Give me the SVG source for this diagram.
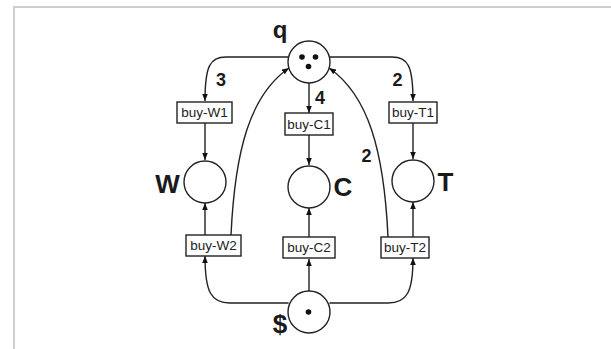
<svg xmlns="http://www.w3.org/2000/svg" width="611" height="349" viewBox="0 0 611 349">
<style>
.frame{fill:none;stroke:#c0c0c0;stroke-width:1.5}
.place{fill:#fff;stroke:#222;stroke-width:1.4}
.tok{fill:#111}
.trans{fill:#fff;stroke:#222;stroke-width:1.4}
.tt{font-family:"Liberation Sans",Arial,sans-serif;font-size:13.5px;fill:#222;text-anchor:middle}
.big{font-family:"Liberation Sans",Arial,sans-serif;font-weight:bold;font-size:26px;fill:#1a1a1a;text-anchor:middle}
.num{font-family:"Liberation Sans",Arial,sans-serif;font-weight:bold;font-size:18px;fill:#1a1a1a;text-anchor:middle}
.edge{fill:none;stroke:#222;stroke-width:1.4;marker-end:url(#ah)}
</style>
<defs>
<marker id="ah" viewBox="0 0 10 10" refX="10" refY="5" markerWidth="7" markerHeight="7" markerUnits="userSpaceOnUse" orient="auto">
<path d="M0,1 L10,5 L0,9 Z" fill="#111"/>
</marker>
</defs>
<rect width="611" height="349" fill="#fff"/>
<path class="frame" d="M14,349 V7 H611"/>
<g id="connectors">
<path class="edge" d="M288.6,57 H226 C210,57 205,66 205,101"/>
<path class="edge" d="M329.4,57 H392 C408,57 413,66 413,101"/>
<path class="edge" d="M309,83 V113"/>
<path class="edge" d="M205,123 V160"/>
<path class="edge" d="M309,135 V165"/>
<path class="edge" d="M413,123 V159"/>
<path class="edge" d="M205,235 V203"/>
<path class="edge" d="M309,237 V208"/>
<path class="edge" d="M413,237 V202"/>
<path class="edge" d="M231,235 C235,150 250,95 289,68"/>
<path class="edge" d="M388,237 C384,150 368,95 329,68"/>
<path class="edge" d="M288.6,303 H230 C211,303 205,292 205,256"/>
<path class="edge" d="M309,291 V259"/>
<path class="edge" d="M329.4,303 H388 C407,303 413,292 413,258"/>
</g>
<g id="q">
<circle class="place" cx="309" cy="62" r="21"/>
<circle class="tok" cx="302" cy="57" r="2.8"/>
<circle class="tok" cx="315.5" cy="57" r="2.8"/>
<circle class="tok" cx="308.5" cy="66.5" r="2.8"/>
<text class="big" x="280" y="38" style="font-size:24px">q</text>
</g>
<g id="W">
<circle class="place" cx="205" cy="182" r="21"/>
<text class="big" x="167.5" y="193">W</text>
</g>
<g id="C">
<circle class="place" cx="309" cy="187" r="21"/>
<text class="big" x="343" y="196">C</text>
</g>
<g id="T">
<circle class="place" cx="413" cy="181" r="21"/>
<text class="big" x="445.5" y="191">T</text>
</g>
<g id="dollar">
<circle class="place" cx="309" cy="312" r="21"/>
<circle class="tok" cx="308.5" cy="312" r="2.8"/>
<text class="big" x="280" y="333">$</text>
</g>
<g id="buy-W1">
<rect class="trans" x="177" y="102" width="55" height="21"/>
<text class="tt" x="204.5" y="117">buy-W1</text>
</g>
<g id="buy-C1">
<rect class="trans" x="285" y="113" width="48" height="22"/>
<text class="tt" x="309" y="128.5">buy-C1</text>
</g>
<g id="buy-T1">
<rect class="trans" x="389" y="102" width="48" height="21"/>
<text class="tt" x="413" y="117">buy-T1</text>
</g>
<g id="buy-W2">
<rect class="trans" x="186" y="235" width="55" height="21"/>
<text class="tt" x="213.5" y="250">buy-W2</text>
</g>
<g id="buy-C2">
<rect class="trans" x="283" y="237" width="52" height="21"/>
<text class="tt" x="309" y="252">buy-C2</text>
</g>
<g id="buy-T2">
<rect class="trans" x="381" y="237" width="48" height="21"/>
<text class="tt" x="405" y="252">buy-T2</text>
</g>
<g id="labels">
<text class="num" x="221" y="86">3</text>
<text class="num" x="397.5" y="86">2</text>
<text class="num" x="320" y="104">4</text>
<text class="num" x="366.5" y="162">2</text>
</g>
</svg>
